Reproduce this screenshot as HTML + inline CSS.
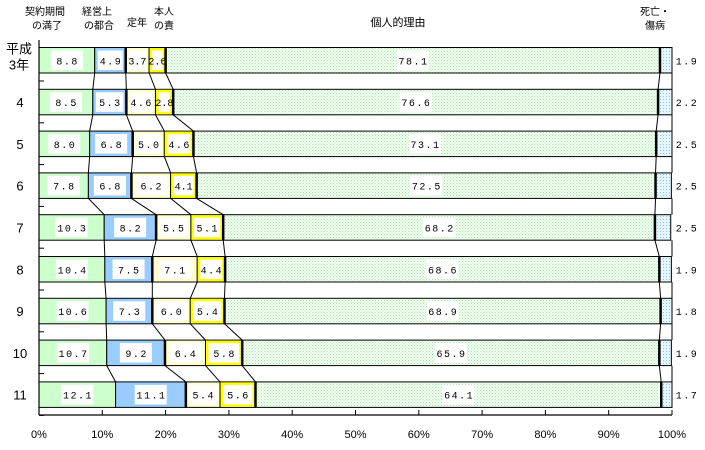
<!DOCTYPE html>
<html><head><meta charset="utf-8">
<style>
body{margin:0;background:#fff;}
svg{display:block;font-family:"Liberation Mono","Noto Sans CJK JP",monospace;}
.jp{font-family:"Liberation Sans","Noto Sans CJK JP",sans-serif;}
</style></head>
<body>
<svg id="chart" width="705" height="450" viewBox="0 0 705 450" xmlns="http://www.w3.org/2000/svg">
<defs>
<pattern id="pg" width="3" height="3" patternUnits="userSpaceOnUse"><rect width="3" height="3" fill="#f0fff0"/><rect width="1" height="1" fill="#b0e4b0"/><rect x="1.5" y="1.5" width="1" height="1" fill="#c0eac0"/></pattern>
<pattern id="pb" width="3" height="3" patternUnits="userSpaceOnUse"><rect width="3" height="3" fill="#e6f6ff"/><rect width="1" height="1" fill="#88c8e8"/></pattern>
</defs>
<g id="headers" class="jp" font-size="10" text-anchor="middle" fill="#000">
<text x="45" y="15">契約期間</text>
<text x="47" y="29">の満了</text>
<text x="97" y="15">経営上</text>
<text x="99" y="29">の都合</text>
<text x="137" y="26">定年</text>
<text x="164" y="15">本人</text>
<text x="164" y="29">の責</text>
<text x="398" y="26" font-size="11">個人的理由</text>
<text x="655" y="15">死亡・</text>
<text x="655" y="29">傷病</text>
</g>
<g id="plot"></g>
</svg>
<script>
const categories=["平成3年","4","5","6","7","8","9","10","11"];
const contractEnd=[8.8,8.5,8.0,7.8,10.3,10.4,10.6,10.7,12.1];
const business=[4.9,5.3,6.8,6.8,8.2,7.5,7.3,9.2,11.1];
const retirement=[3.7,4.6,5.0,6.2,5.5,7.1,6.0,6.4,5.4];
const selfFault=[2.6,2.8,4.6,4.1,5.1,4.4,5.4,5.8,5.6];
const personal=[78.1,76.6,73.1,72.5,68.2,68.6,68.9,65.9,64.1];
const death=[1.9,2.2,2.5,2.5,2.5,1.9,1.8,1.9,1.7];
const ticks=["0%","10%","20%","30%","40%","50%","60%","70%","80%","90%","100%"];
const ns="http://www.w3.org/2000/svg";
const g=document.getElementById('plot');
const X0=39,X1=672,Y0=47.5,PITCH=41.8,BH=25.5;
const x=v=>X0+(X1-X0)*v/100;
const yTop=i=>Y0+i*PITCH;
function mk(t,a,p){const e=document.createElementNS(ns,t);for(const k in a)e.setAttribute(k,a[k]);(p||g).appendChild(e);return e;}
const series=[contractEnd,business,retirement,selfFault,personal,death];
const fills=["#ccffcc","#99ccff","#ffffcc","#ffff00","url(#pg)","url(#pb)"];
const names=["contract-end","business","retirement","self-fault","personal","death"];
const cums=categories.map((c,i)=>{let s=0;return series.map(a=>{s+=a[i];return s;});});
for(let i=0;i<categories.length-1;i++){
  for(const k of [0,1,2,3,4]){
    const l=mk('line',{x1:x(cums[i][k]),y1:yTop(i)+BH,x2:x(cums[i+1][k]),y2:yTop(i+1),stroke:'#000','stroke-width':1});
    
    
  }
  const r=mk('line',{x1:X1,y1:yTop(i)+BH,x2:X1,y2:yTop(i+1),stroke:'#000'});
  
  
}
categories.forEach((c,i)=>{
  const yt=yTop(i);let s=0;
  series.forEach((a,k)=>{
    const v=a[i],xa=x(s),xb=x(Math.min(s+v,100));s+=v;
    const r=mk('rect',{x:xa,y:yt,width:xb-xa,height:BH,fill:fills[k],stroke:'#000','stroke-width':1});
    
    
    if(k===3){mk('rect',{x:xa+1.5,y:yt+1.5,width:xb-xa-3,height:BH-3,fill:'none',stroke:'#ffff00','stroke-width':2});}
    const label=v.toFixed(1);
    if(k<5){
      const sw=xb-xa;
      const bw=Math.min(sw-6,32),cx=(xa+xb)/2;
      const b=mk('rect',{x:cx-bw/2,y:yt+3,width:bw,height:BH-6,fill:'#fff'});
      
      
      const ls=sw<26?0:1.5;
      const t=mk('text',{x:cx+ls/2,y:yt+BH/2+4,'font-size':10,'text-anchor':'middle','letter-spacing':ls});
      t.textContent=label;
      
      
    }else{
      const t=mk('text',{x:687,y:yt+BH/2+4,'font-size':10,'text-anchor':'middle','letter-spacing':'1.5'});
      t.textContent=label;
      
      
    }
  });
  [1,3,4].forEach(k=>{mk('line',{x1:x(cums[i][k]),y1:yt,x2:x(cums[i][k]),y2:yt+BH,stroke:'#000','stroke-width':2.5});});
  if(i===0){
    const t1=mk('text',{x:19,y:yt+6,'font-size':13,'text-anchor':'middle',class:'jp'});t1.textContent='平成';
    
    
    const t2=mk('text',{x:19,y:yt+22,'font-size':13,'text-anchor':'middle',class:'jp'});t2.textContent='3年';
    
    
  }else{
    const t=mk('text',{x:20,y:yt+BH/2+5,'font-size':13,'text-anchor':'middle',class:'jp'});t.textContent=c;
    
    
  }
  mk('line',{x1:X0,y1:yt+BH+8,x2:X0+5,y2:yt+BH+8,stroke:'#000'});
});
const ya=mk('line',{x1:X0,y1:40,x2:X0,y2:415,stroke:'#000','stroke-width':1.2});


const xa=mk('line',{x1:X0,y1:415,x2:X1,y2:415,stroke:'#000','stroke-width':1.2});


ticks.forEach((tk,j)=>{
  const xv=x(j*10);
  mk('line',{x1:xv,y1:410,x2:xv,y2:415,stroke:'#000'});
  const t=mk('text',{x:xv,y:438,'font-size':11,'text-anchor':'middle',class:'jp'});
  t.textContent=tk;
  
  
});
</script>
</body></html>
